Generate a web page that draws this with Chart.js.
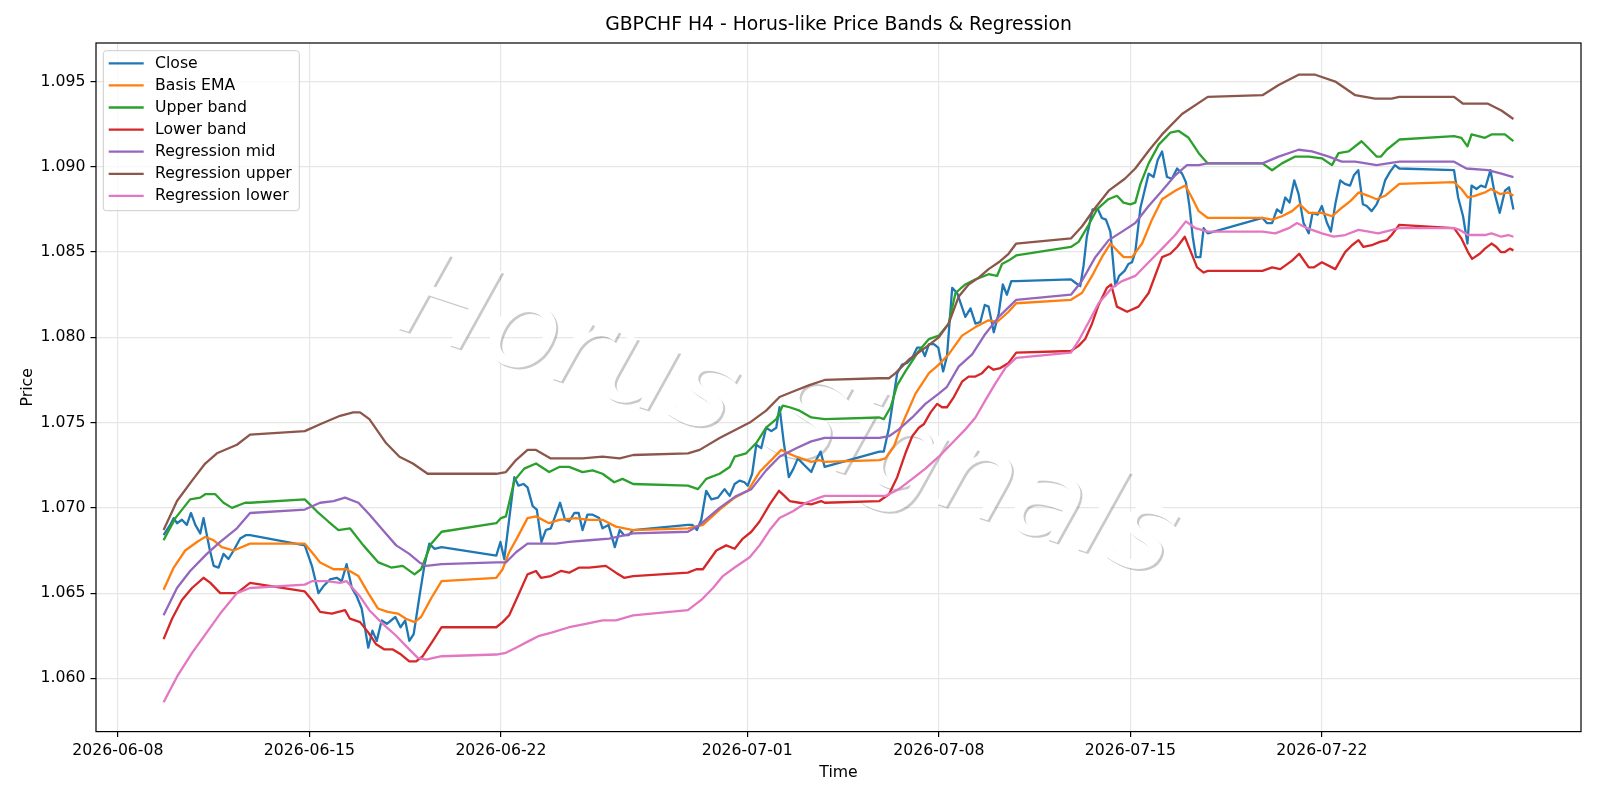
<!DOCTYPE html>
<html lang="en">
<head>
<meta charset="UTF-8">
<title>GBPCHF H4 - Horus-like Price Bands &amp; Regression</title>
<script src="https://cdn.jsdelivr.net/npm/chart.js"></script>
<style>
  html, body { margin: 0; padding: 0; background: #fff; }
  #chart { display: block; }
</style>
</head>
<body>
<canvas id="chart" width="1600" height="800"></canvas>
<script>
// x values are days since 2026-06-08 00:00 (H4 bars, weekend gaps drawn as straight lines)
const xTickDays = [0, 7, 14, 23, 30, 37, 44];
const xTickLabels = ['2026-06-08', '2026-06-15', '2026-06-22', '2026-07-01', '2026-07-08', '2026-07-15', '2026-07-22'];
const yTicks = [1.060, 1.065, 1.070, 1.075, 1.080, 1.085, 1.090, 1.095];

const seriesNames = ['Close', 'Basis EMA', 'Upper band', 'Lower band', 'Regression mid', 'Regression upper', 'Regression lower'];
const seriesColors = ['#1f77b4', '#ff7f0e', '#2ca02c', '#d62728', '#9467bd', '#8c564b', '#e377c2'];

const closeData = [
  [1.67,1.0684],[1.91,1.0690],[2.04,1.0694],[2.16,1.0691],[2.34,1.0693],[2.52,1.0690],[2.67,1.0697],[2.83,1.0690],[3.01,1.0685],[3.13,1.0694],
  [3.35,1.0676],[3.50,1.0666],[3.68,1.0665],[3.86,1.0673],[4.04,1.0670],[4.23,1.0675],[4.47,1.0682],[4.67,1.0684],[4.83,1.0684],
  [6.83,1.0678],[7.09,1.0666],[7.33,1.0650],[7.51,1.0654],[7.75,1.0658],[8.00,1.0659],[8.18,1.0657],[8.36,1.0667],[8.55,1.0653],[8.73,1.0648],
  [8.91,1.0641],[9.15,1.0618],[9.30,1.0628],[9.46,1.0622],[9.64,1.0634],[9.83,1.0632],[10.14,1.0636],[10.33,1.0630],[10.50,1.0634],[10.65,1.0622],
  [10.81,1.0626],[11.02,1.0648],[11.20,1.0666],[11.38,1.0679],[11.57,1.0676],[11.83,1.0677],
  [13.83,1.0672],[13.98,1.0680],[14.12,1.0670],[14.49,1.0718],[14.64,1.0713],[14.82,1.0714],[14.97,1.0712],[15.16,1.0701],[15.31,1.0699],
  [15.48,1.0680],[15.64,1.0687],[15.82,1.0688],[16.16,1.0703],[16.34,1.0693],[16.49,1.0692],[16.68,1.0697],[16.84,1.0697],[16.98,1.0687],
  [17.16,1.0696],[17.35,1.0696],[17.59,1.0694],[17.71,1.0688],[17.93,1.0690],[18.16,1.0677],[18.34,1.0687],[18.50,1.0684],[18.66,1.0684],[18.83,1.0687],
  [20.83,1.0690],[21.00,1.0690],[21.16,1.0687],[21.32,1.0693],[21.50,1.0710],[21.69,1.0705],[21.93,1.0706],[22.17,1.0711],[22.36,1.0707],
  [22.54,1.0714],[22.72,1.0716],[22.90,1.0715],[23.02,1.0713],[23.18,1.0720],[23.33,1.0737],[23.51,1.0735],[23.69,1.0747],[23.88,1.0745],
  [24.06,1.0747],[24.18,1.0759],[24.33,1.0739],[24.52,1.0718],[24.69,1.0723],[24.85,1.0729],[25.09,1.0725],[25.34,1.0721],[25.52,1.0728],
  [25.68,1.0733],[25.83,1.0724],
  [27.83,1.0733],[27.99,1.0733],[28.18,1.0747],[28.48,1.0779],[28.66,1.0784],[28.84,1.0785],[29.03,1.0788],[29.21,1.0794],[29.36,1.0794],
  [29.49,1.0789],[29.64,1.0796],[29.82,1.0796],[29.98,1.0794],[30.16,1.0780],[30.30,1.0789],[30.49,1.0829],[30.67,1.0826],[30.97,1.0812],
  [31.16,1.0817],[31.34,1.0808],[31.52,1.0809],[31.68,1.0819],[31.82,1.0818],[32.01,1.0803],[32.19,1.0814],[32.34,1.0831],[32.49,1.0825],
  [32.65,1.0833],[32.83,1.0833],
  [34.83,1.0834],[34.99,1.0832],[35.17,1.0830],[35.29,1.0842],[35.41,1.0859],[35.62,1.0875],[35.82,1.0875],[35.96,1.0870],[36.11,1.0869],
  [36.27,1.0862],[36.45,1.0830],[36.59,1.0836],[36.79,1.0839],[36.93,1.0843],[37.06,1.0844],[37.18,1.0850],[37.37,1.0876],[37.52,1.0886],
  [37.67,1.0896],[37.85,1.0894],[38.00,1.0904],[38.16,1.0909],[38.34,1.0894],[38.52,1.0893],[38.71,1.0899],[38.89,1.0896],[39.03,1.0891],
  [39.16,1.0877],[39.28,1.0859],[39.40,1.0847],[39.56,1.0847],[39.68,1.0864],[39.83,1.0861],
  [41.83,1.0870],[41.99,1.0867],[42.18,1.0867],[42.36,1.0875],[42.52,1.0873],[42.66,1.0882],[42.82,1.0879],[42.99,1.0892],[43.15,1.0884],
  [43.33,1.0867],[43.52,1.0861],[43.66,1.0873],[43.85,1.0872],[44.00,1.0877],[44.19,1.0867],[44.33,1.0862],[44.49,1.0878],[44.67,1.0892],
  [44.84,1.0890],[45.03,1.0889],[45.17,1.0895],[45.33,1.0898],[45.50,1.0878],[45.64,1.0877],[45.82,1.0874],[46.00,1.0878],[46.19,1.0885],
  [46.31,1.0892],[46.49,1.0897],[46.67,1.0901],[46.83,1.0899],
  [48.83,1.0898],[48.98,1.0882],[49.16,1.0871],[49.32,1.0855],[49.47,1.0889],[49.65,1.0887],[49.81,1.0889],[49.98,1.0888],[50.16,1.0898],
  [50.32,1.0884],[50.50,1.0873],[50.69,1.0886],[50.84,1.0888],[51.00,1.0875]
];

const basisData = [
  [1.67,1.0652],[2.04,1.0665],[2.46,1.0675],[2.89,1.0680],[3.19,1.0683],[3.50,1.0681],[3.80,1.0677],[4.23,1.0675],[4.83,1.0679],
  [6.83,1.0679],[7.09,1.0674],[7.39,1.0668],[7.88,1.0664],[8.36,1.0664],[8.79,1.0660],[9.15,1.0650],[9.50,1.0641],[9.86,1.0639],[10.23,1.0638],
  [10.53,1.0635],[10.84,1.0633],[11.08,1.0636],[11.45,1.0647],[11.83,1.0657],
  [13.83,1.0659],[14.06,1.0664],[14.30,1.0674],[14.61,1.0683],[14.97,1.0694],[15.28,1.0695],[15.76,1.0691],[16.13,1.0693],[16.74,1.0694],
  [17.22,1.0693],[17.71,1.0693],[18.20,1.0689],[18.83,1.0687],
  [20.83,1.0688],[21.38,1.0690],[21.99,1.0699],[22.54,1.0706],[23.02,1.0710],[23.45,1.0721],[23.94,1.0729],[24.24,1.0734],[24.36,1.0733],
  [24.79,1.0730],[25.34,1.0727],[25.64,1.0728],[25.83,1.0727],
  [27.83,1.0728],[28.05,1.0729],[28.36,1.0736],[28.66,1.0749],[29.15,1.0767],[29.64,1.0779],[30.00,1.0784],[30.36,1.0790],[30.85,1.0801],
  [31.34,1.0806],[31.82,1.0810],[32.13,1.0809],[32.55,1.0815],[32.83,1.0820],
  [34.83,1.0822],[35.23,1.0826],[35.60,1.0836],[35.96,1.0847],[36.27,1.0855],[36.57,1.0850],[36.76,1.0847],[37.06,1.0847],[37.43,1.0855],
  [37.79,1.0869],[38.16,1.0881],[38.64,1.0886],[39.01,1.0889],[39.25,1.0882],[39.50,1.0874],[39.83,1.0870],
  [41.83,1.0870],[42.18,1.0869],[42.54,1.0871],[42.91,1.0874],[43.19,1.0878],[43.52,1.0873],[44.00,1.0873],[44.37,1.0871],[44.73,1.0876],
  [45.05,1.0880],[45.35,1.0885],[45.70,1.0883],[46.00,1.0881],[46.31,1.0883],[46.83,1.0890],
  [48.83,1.0891],[49.10,1.0887],[49.34,1.0882],[49.59,1.0883],[49.96,1.0885],[50.18,1.0887],[50.51,1.0884],[50.81,1.0885],[51.00,1.0883]
];

const upperData = [
  [1.67,1.0681],[2.10,1.0694],[2.64,1.0705],[3.01,1.0706],[3.19,1.0708],[3.56,1.0708],[3.86,1.0703],[4.17,1.0700],[4.65,1.0703],[4.83,1.0703],
  [6.83,1.0705],[7.27,1.0698],[7.69,1.0692],[8.06,1.0687],[8.48,1.0688],[8.97,1.0678],[9.52,1.0668],[9.99,1.0665],[10.41,1.0666],
  [10.84,1.0661],[11.08,1.0664],[11.45,1.0679],[11.83,1.0686],
  [13.83,1.0691],[14.00,1.0694],[14.18,1.0695],[14.49,1.0716],[14.85,1.0723],[15.28,1.0726],[15.76,1.0721],[16.13,1.0724],[16.49,1.0724],
  [16.98,1.0721],[17.35,1.0722],[17.71,1.0720],[18.14,1.0715],[18.44,1.0717],[18.83,1.0714],
  [20.83,1.0713],[21.20,1.0711],[21.50,1.0717],[21.99,1.0720],[22.36,1.0724],[22.54,1.0730],[22.96,1.0732],[23.33,1.0738],[23.69,1.0747],
  [24.06,1.0752],[24.30,1.0760],[24.55,1.0759],[24.91,1.0757],[25.34,1.0753],[25.83,1.0752],
  [27.83,1.0753],[27.99,1.0752],[28.24,1.0759],[28.48,1.0772],[28.78,1.0780],[29.27,1.0792],[29.64,1.0799],[30.00,1.0801],[30.36,1.0808],
  [30.61,1.0826],[30.97,1.0831],[31.34,1.0834],[31.82,1.0837],[32.13,1.0836],[32.31,1.0843],[32.55,1.0845],[32.83,1.0848],
  [34.83,1.0853],[35.11,1.0856],[35.48,1.0866],[35.78,1.0875],[36.20,1.0881],[36.51,1.0883],[36.75,1.0879],[37.00,1.0878],[37.18,1.0879],
  [37.37,1.0890],[37.67,1.0902],[38.04,1.0913],[38.46,1.0920],[38.77,1.0921],[39.13,1.0917],[39.50,1.0908],[39.83,1.0902],
  [41.83,1.0902],[42.18,1.0898],[42.54,1.0902],[43.03,1.0906],[43.52,1.0906],[44.00,1.0905],[44.37,1.0901],[44.61,1.0908],[44.98,1.0909],
  [45.45,1.0915],[45.76,1.0910],[46.00,1.0906],[46.16,1.0906],[46.37,1.0910],[46.83,1.0916],
  [48.83,1.0918],[49.10,1.0917],[49.32,1.0912],[49.47,1.0919],[49.96,1.0917],[50.20,1.0919],[50.69,1.0919],[51.00,1.0915]
];

const lowerData = [
  [1.67,1.0623],[1.98,1.0635],[2.34,1.0646],[2.71,1.0653],[3.13,1.0659],[3.38,1.0656],[3.74,1.0650],[4.35,1.0650],[4.83,1.0656],
  [6.83,1.0651],[7.09,1.0646],[7.39,1.0639],[7.82,1.0638],[8.30,1.0640],[8.48,1.0635],[8.85,1.0633],[9.15,1.0627],[9.44,1.0620],[9.74,1.0617],
  [10.05,1.0617],[10.35,1.0614],[10.65,1.0610],[10.90,1.0610],[11.14,1.0613],[11.51,1.0622],[11.83,1.0630],
  [13.83,1.0630],[14.06,1.0633],[14.30,1.0637],[14.61,1.0648],[14.97,1.0661],[15.28,1.0663],[15.46,1.0659],[15.82,1.0660],[16.19,1.0663],
  [16.49,1.0662],[16.86,1.0665],[17.22,1.0665],[17.83,1.0666],[18.20,1.0662],[18.50,1.0659],[18.83,1.0660],
  [20.83,1.0662],[21.14,1.0664],[21.38,1.0664],[21.87,1.0675],[22.23,1.0678],[22.54,1.0676],[22.84,1.0682],[23.15,1.0686],[23.45,1.0692],
  [23.82,1.0702],[24.16,1.0710],[24.36,1.0707],[24.55,1.0704],[24.91,1.0703],[25.34,1.0702],[25.70,1.0704],[25.83,1.0703],
  [27.83,1.0704],[28.18,1.0708],[28.48,1.0718],[28.78,1.0732],[29.03,1.0742],[29.27,1.0747],[29.45,1.0749],[29.70,1.0756],[29.94,1.0761],
  [30.12,1.0759],[30.30,1.0759],[30.55,1.0765],[30.85,1.0774],[31.09,1.0777],[31.34,1.0777],[31.58,1.0779],[31.82,1.0783],[32.00,1.0781],
  [32.25,1.0782],[32.55,1.0785],[32.83,1.0791],
  [34.83,1.0792],[35.11,1.0795],[35.35,1.0799],[35.60,1.0808],[35.84,1.0819],[36.14,1.0829],[36.30,1.0831],[36.51,1.0818],[36.88,1.0815],
  [37.30,1.0818],[37.67,1.0826],[38.16,1.0847],[38.46,1.0849],[38.71,1.0853],[38.99,1.0859],[39.19,1.0851],[39.44,1.0841],[39.68,1.0838],[39.83,1.0839],
  [41.83,1.0839],[42.18,1.0841],[42.48,1.0840],[42.91,1.0845],[43.17,1.0849],[43.52,1.0841],[43.70,1.0841],[44.00,1.0844],[44.49,1.0840],
  [44.85,1.0850],[45.10,1.0854],[45.34,1.0857],[45.52,1.0853],[45.82,1.0854],[46.12,1.0856],[46.37,1.0857],[46.55,1.0860],[46.83,1.0866],
  [48.83,1.0864],[49.10,1.0858],[49.34,1.0850],[49.49,1.0846],[49.77,1.0849],[49.96,1.0852],[50.20,1.0855],[50.38,1.0853],[50.54,1.0850],
  [50.69,1.0850],[50.87,1.0852],[51.00,1.0851]
];

const regMidData = [
  [1.67,1.0637],[2.16,1.0653],[2.64,1.0663],[3.25,1.0673],[3.74,1.0680],[4.35,1.0688],[4.83,1.0697],
  [6.83,1.0699],[7.39,1.0703],[7.88,1.0704],[8.30,1.0706],[8.79,1.0703],[9.20,1.0696],[9.68,1.0687],[10.17,1.0678],[10.65,1.0673],
  [11.02,1.0668],[11.26,1.0666],[11.83,1.0667],
  [13.83,1.0668],[14.18,1.0668],[14.55,1.0674],[14.97,1.0679],[15.40,1.0679],[16.00,1.0679],[16.49,1.0680],[17.22,1.0681],[17.95,1.0682],[18.83,1.0685],
  [20.83,1.0686],[21.26,1.0690],[21.99,1.0700],[22.60,1.0707],[23.15,1.0711],[23.69,1.0722],[24.18,1.0730],[24.79,1.0735],[25.34,1.0739],[25.83,1.0741],
  [27.83,1.0741],[28.18,1.0742],[28.54,1.0746],[29.03,1.0753],[29.51,1.0761],[30.00,1.0767],[30.30,1.0771],[30.73,1.0783],[31.22,1.0790],
  [31.70,1.0802],[32.19,1.0812],[32.83,1.0822],
  [34.83,1.0825],[35.23,1.0833],[35.72,1.0847],[36.21,1.0857],[36.70,1.0862],[37.18,1.0867],[37.67,1.0877],[38.16,1.0886],[38.64,1.0895],
  [39.07,1.0901],[39.50,1.0901],[39.83,1.0902],
  [41.83,1.0902],[42.42,1.0906],[43.15,1.0910],[43.64,1.0909],[44.25,1.0906],[44.73,1.0903],[45.22,1.0903],[46.00,1.0901],[46.83,1.0903],
  [48.83,1.0903],[49.28,1.0899],[50.07,1.0898],[50.56,1.0896],[51.00,1.0894]
];

const regUpperData = [
  [1.67,1.0687],[2.16,1.0704],[2.71,1.0716],[3.19,1.0726],[3.62,1.0732],[4.35,1.0737],[4.83,1.0743],
  [6.83,1.0745],[7.39,1.0749],[8.12,1.0754],[8.60,1.0756],[8.85,1.0756],[9.19,1.0752],[9.80,1.0738],[10.29,1.0730],[10.78,1.0726],
  [11.32,1.0720],[11.83,1.0720],
  [13.83,1.0720],[14.18,1.0721],[14.55,1.0728],[14.97,1.0734],[15.28,1.0734],[15.82,1.0729],[16.49,1.0729],[16.98,1.0729],[17.71,1.0730],
  [18.34,1.0729],[18.83,1.0731],
  [20.83,1.0732],[21.26,1.0734],[21.99,1.0741],[23.09,1.0750],[23.69,1.0757],[24.18,1.0765],[24.79,1.0769],[25.27,1.0772],[25.83,1.0775],
  [27.83,1.0776],[28.18,1.0776],[28.42,1.0779],[28.91,1.0787],[29.51,1.0794],[30.00,1.0800],[30.36,1.0808],[30.73,1.0824],[31.09,1.0831],
  [31.46,1.0835],[31.82,1.0840],[32.19,1.0844],[32.55,1.0849],[32.83,1.0855],
  [34.83,1.0858],[35.23,1.0865],[35.72,1.0876],[36.21,1.0886],[36.80,1.0893],[37.18,1.0899],[37.70,1.0910],[38.16,1.0919],[38.89,1.0931],[39.83,1.0941],
  [41.83,1.0942],[42.42,1.0948],[43.15,1.0954],[43.76,1.0954],[44.49,1.0950],[45.22,1.0942],[45.94,1.0940],[46.55,1.0940],[46.83,1.0941],
  [48.83,1.0941],[49.16,1.0937],[49.59,1.0937],[50.07,1.0937],[50.56,1.0933],[51.00,1.0928]
];

const regLowerData = [
  [1.67,1.0586],[2.16,1.0601],[2.71,1.0615],[3.25,1.0627],[3.74,1.0638],[4.35,1.0650],[4.83,1.0653],
  [6.83,1.0655],[7.09,1.0657],[7.63,1.0657],[8.12,1.0656],[8.36,1.0657],[8.85,1.0648],[9.19,1.0640],[9.68,1.0632],[10.17,1.0625],
  [10.65,1.0617],[10.96,1.0612],[11.26,1.0611],[11.83,1.0613],
  [13.83,1.0614],[14.18,1.0615],[14.55,1.0618],[15.03,1.0622],[15.40,1.0625],[15.88,1.0627],[16.49,1.0630],[17.10,1.0632],[17.71,1.0634],
  [18.20,1.0634],[18.83,1.0637],
  [20.83,1.0640],[21.32,1.0646],[21.75,1.0653],[22.11,1.0660],[22.54,1.0665],[23.09,1.0671],[23.45,1.0678],[23.82,1.0687],[24.18,1.0694],
  [24.67,1.0698],[25.15,1.0703],[25.64,1.0706],[25.83,1.0707],
  [27.83,1.0707],[28.05,1.0707],[28.54,1.0711],[29.03,1.0717],[29.51,1.0723],[30.00,1.0730],[30.49,1.0738],[30.97,1.0746],[31.34,1.0753],
  [31.70,1.0763],[32.07,1.0773],[32.43,1.0782],[32.83,1.0788],
  [34.83,1.0791],[35.11,1.0798],[35.48,1.0809],[35.84,1.0820],[36.33,1.0829],[36.70,1.0833],[37.18,1.0836],[37.67,1.0844],[38.16,1.0852],
  [38.64,1.0860],[39.03,1.0868],[39.38,1.0864],[39.83,1.0862],
  [41.83,1.0862],[42.30,1.0861],[42.79,1.0864],[43.09,1.0867],[43.46,1.0864],[44.00,1.0861],[44.43,1.0859],[44.85,1.0860],[45.34,1.0863],
  [45.71,1.0862],[46.06,1.0861],[46.83,1.0864],
  [48.83,1.0864],[49.04,1.0863],[49.34,1.0860],[49.96,1.0860],[50.20,1.0861],[50.56,1.0859],[50.81,1.0860],[51.00,1.0859]
];

const allSeries = [closeData, basisData, upperData, lowerData, regMidData, regUpperData, regLowerData];

const FONT = '"DejaVu Sans", "Liberation Sans", sans-serif';
const TITLE = 'GBPCHF H4 - Horus-like Price Bands & Regression';
const FS = 15.7; // 10pt text

// watermark, spines, legend and title drawn like matplotlib
const decorPlugin = {
  id: 'decor',
  beforeDatasetsDraw(chart) {
    const ctx = chart.ctx;
    const a = chart.chartArea;
    ctx.save();
    ctx.beginPath();
    ctx.rect(a.left, a.top, a.right - a.left, a.bottom - a.top);
    ctx.clip();
    ctx.translate(778, 452);
    ctx.rotate(18 * Math.PI / 180);
    ctx.font = 'italic 118px ' + FONT;
    ctx.textAlign = 'center';
    ctx.textBaseline = 'alphabetic';
    ctx.shadowColor = 'rgba(77,77,77,0.3)';
    ctx.shadowOffsetX = 2;
    ctx.shadowOffsetY = 2;
    ctx.shadowBlur = 0;
    ctx.fillStyle = '#ffffff';
    ctx.fillText('Horus Signals', 0, 0);
    ctx.restore();
  },
  afterDatasetsDraw(chart) {
    const ctx = chart.ctx;
    const a = chart.chartArea;
    // spines
    ctx.save();
    ctx.strokeStyle = '#000';
    ctx.lineWidth = 1.2;
    ctx.strokeRect(a.left, a.top, a.right - a.left, a.bottom - a.top);
    ctx.restore();

    // legend (upper left, inside axes)
    const lx = a.left + 7.3, ly = a.top + 7.7, lw = 196, lh = 160;
    ctx.save();
    ctx.beginPath();
    ctx.roundRect(lx, ly, lw, lh, 3);
    ctx.fillStyle = 'rgba(255,255,255,0.8)';
    ctx.fill();
    ctx.strokeStyle = '#cccccc';
    ctx.lineWidth = 1;
    ctx.stroke();
    ctx.font = FS + 'px ' + FONT;
    ctx.textBaseline = 'middle';
    ctx.textAlign = 'left';
    chart.data.datasets.forEach((ds, i) => {
      const y = ly + 12.6 + i * 22.1;
      ctx.beginPath();
      ctx.moveTo(lx + 5.4, y);
      ctx.lineTo(lx + 40.4, y);
      ctx.strokeStyle = ds.borderColor;
      ctx.lineWidth = 2.3;
      ctx.stroke();
      ctx.fillStyle = '#000';
      ctx.fillText(ds.label, lx + 51.7, y + 0.5);
    });
    ctx.restore();
  },
  afterDraw(chart) {
    const ctx = chart.ctx;
    const a = chart.chartArea;
    ctx.save();
    ctx.font = '18.8px ' + FONT;
    ctx.fillStyle = '#000';
    ctx.textAlign = 'center';
    ctx.textBaseline = 'middle';
    ctx.fillText(TITLE, (a.left + a.right) / 2, 25.5);
    ctx.restore();
  }
};

const gridColor = '#e6e6e6';

const config = {
  type: 'line',
  data: {
    datasets: allSeries.map((s, i) => ({
      label: seriesNames[i],
      data: s.map(p => ({x: p[0], y: p[1]})),
      borderColor: seriesColors[i],
      backgroundColor: seriesColors[i],
      borderWidth: 2.3,
      borderJoinStyle: 'round',
      pointRadius: 0,
      pointHoverRadius: 0,
      fill: false,
      tension: 0,
      order: allSeries.length - i
    }))
  },
  options: {
    responsive: false,
    animation: false,
    events: [],
    layout: { padding: { left: 0, right: 19, top: 43, bottom: 0 } },
    plugins: {
      legend: { display: false },
      tooltip: { enabled: false },
      title: { display: false }
    },
    scales: {
      x: {
        type: 'linear',
        min: -0.80,
        max: 53.47,
        afterBuildTicks: (scale) => { scale.ticks = xTickDays.map(v => ({value: v})); },
        afterFit: (scale) => { scale.height = 68.4; },
        ticks: {
          autoSkip: false,
          maxRotation: 0,
          padding: 4,
          color: '#000',
          font: { family: FONT, size: FS },
          callback: (value) => {
            const i = xTickDays.indexOf(value);
            return i >= 0 ? xTickLabels[i] : '';
          }
        },
        grid: { color: gridColor, lineWidth: 1.2, tickLength: 5.5, tickColor: '#000', tickWidth: 1.2 },
        border: { display: false },
        title: { display: true, text: 'Time', color: '#000', font: { family: FONT, size: FS }, padding: { top: 0, bottom: 17.6 } }
      },
      y: {
        type: 'linear',
        min: 1.05688,
        max: 1.09726,
        afterBuildTicks: (scale) => { scale.ticks = yTicks.map(v => ({value: v})); },
        afterFit: (scale) => { scale.width = 96; },
        ticks: {
          padding: 5,
          color: '#000',
          font: { family: FONT, size: FS },
          callback: (value) => value.toFixed(3)
        },
        grid: { color: gridColor, lineWidth: 1.2, tickLength: 5.5, tickColor: '#000', tickWidth: 1.2 },
        border: { display: false },
        title: { display: true, text: 'Price', color: '#000', font: { family: FONT, size: FS }, padding: { top: 19, bottom: 0 } }
      }
    }
  },
  plugins: [decorPlugin]
};

new Chart(document.getElementById('chart').getContext('2d'), config);
</script>
</body>
</html>
